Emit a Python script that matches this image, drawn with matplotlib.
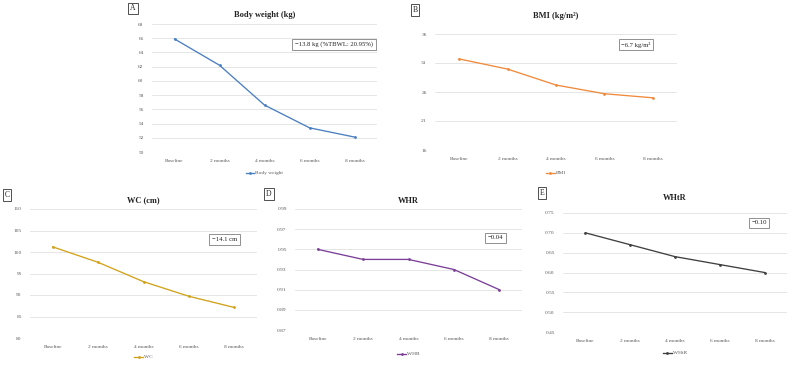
import matplotlib
matplotlib.use("Agg")
import matplotlib.pyplot as plt
import numpy as np

plt.rcParams['font.family'] = ['Liberation Serif', 'DejaVu Serif']

categories = ["Baseline", "2 months", "4 months", "6 months", "8 months"]
body_weight = [65.9, 62.2, 56.6, 53.4, 52.1]
bmi = [31.7, 29.95, 27.2, 25.7, 25.0]
wc = [101.2, 97.6, 93.1, 89.7, 87.1]
whr = [0.95, 0.94, 0.94, 0.93, 0.91]
whtr = [0.70, 0.67, 0.64, 0.62, 0.60]

W, H = 797, 366
fig = plt.figure(figsize=(W / 100, H / 100), dpi=100)


def px_axes(x0, y0, x1, y1):
    return fig.add_axes([x0 / W, 1 - y1 / H, (x1 - x0) / W, (y1 - y0) / H])


panels = [
    dict(rect=(152, 24, 377, 152), data=body_weight, color='#4a7fc1', title='Body weight (kg)',
         legend='Body weight', yt=np.arange(50, 68.1, 2), fmt='{:.0f}', label='A',
         ann='\u221213.8 kg (%TBWL: 20.95%)', ann_xy=(334, 44.5),
         title_y=15, label_xy=(133, 8.5), leg_y=173),
    dict(rect=(435, 34, 677, 150), data=bmi, color='#f08a3c', title='BMI (kg/m\u00b2)',
         legend='BMI', yt=np.arange(16, 36.1, 5), fmt='{:.0f}', label='B',
         ann='\u22126.7 kg/m\u00b2', ann_xy=(636, 44.5),
         title_y=16, label_xy=(415, 10), leg_y=173),
    dict(rect=(30, 209, 257, 338), data=wc, color='#d2a21a', title='WC (cm)',
         legend='WC', yt=np.arange(80, 110.1, 5), fmt='{:.0f}', label='C',
         ann='\u221214.1 cm', ann_xy=(224.5, 239.5),
         title_y=200, label_xy=(7, 195), leg_y=357),
    dict(rect=(295, 209, 522, 330), data=whr, color='#7b3f98', title='WHR',
         legend='WHR', yt=np.arange(0.87, 0.991, 0.02), fmt='{:.2f}', label='D',
         ann='\u22120.04', ann_xy=(495.5, 238),
         title_y=201, label_xy=(269, 194), leg_y=354),
    dict(rect=(563, 213, 787, 332), data=whtr, color='#404040', title='WHtR',
         legend='WHtR', yt=np.arange(0.45, 0.751, 0.05), fmt='{:.2f}', label='E',
         ann='\u22120.10', ann_xy=(759, 223),
         title_y=198, label_xy=(542, 193), leg_y=353),
]

x = np.arange(len(categories))
for p in panels:
    ax = px_axes(*p['rect'])
    ax.plot(x, p['data'], color=p['color'], lw=0.95, marker='o', ms=1.0, label=p['legend'])
    ax.set_xlim(-0.5, len(categories) - 0.5)
    yt = p['yt']
    ax.set_ylim(yt[0], yt[-1])
    ax.set_yticks(yt)
    ax.set_yticklabels([p['fmt'].format(v) for v in yt], fontsize=3.9, color='#595959')
    ax.set_xticks(x)
    ax.set_xticklabels(categories, fontsize=3.9, color='#595959')
    ax.tick_params(length=0, pad=6)
    ax.tick_params(axis='x', pad=5)
    ax.grid(axis='y', color='#dcdcdc', lw=0.5)
    for s in ax.spines.values():
        s.set_visible(False)
    ax.set_axisbelow(True)
    x0, y0, x1, y1 = p['rect']
    fig.text((x0 + x1) / 2 / W, 1 - p['title_y'] / H, p['title'], ha='center', va='center',
             fontsize=6.0, fontweight='bold', color='#222222')
    fig.text(p['label_xy'][0] / W, 1 - p['label_xy'][1] / H, p['label'], ha='center', va='center',
             fontsize=5.5, color='#222222',
             bbox=dict(boxstyle='square,pad=0.25', fc='white', ec='#333333', lw=0.6))
    fig.text(p['ann_xy'][0] / W, 1 - p['ann_xy'][1] / H, p['ann'], ha='center', va='center',
             fontsize=4.8, color='#222222',
             bbox=dict(boxstyle='square,pad=0.4', fc='white', ec='#7f7f7f', lw=0.6))
    fig.legend(handles=ax.get_lines(), loc='center',
               bbox_to_anchor=((x0 + x1) / 2 / W, 1 - p['leg_y'] / H),
               frameon=False, fontsize=3.9, handlelength=1.6, handletextpad=0.2,
               labelcolor='#595959')

fig.savefig('out.png', dpi=100, facecolor='white')
